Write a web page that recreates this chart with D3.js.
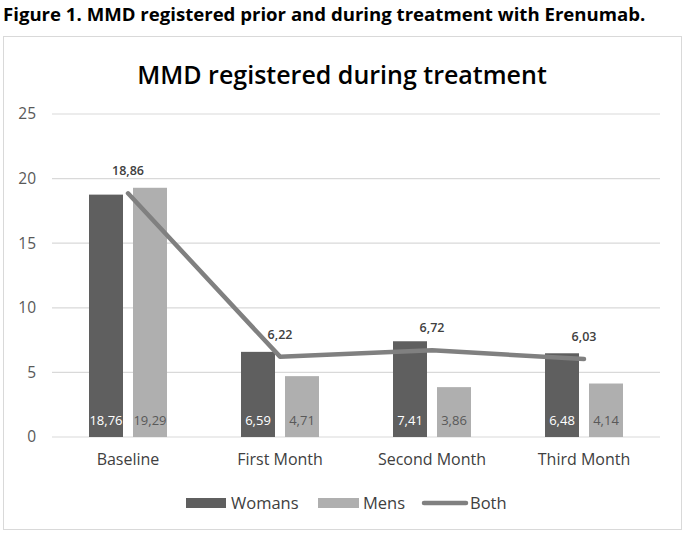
<!DOCTYPE html>
<meta charset="utf-8">
<style>
  body { margin: 0; background: #fff; }
  text { font-family: "Open Sans", "Noto Sans", sans-serif; }
</style>
<body>
<script src="https://d3js.org/d3.v7.min.js"></script>
<script>

// data
var categories = ["Baseline", "First Month", "Second Month", "Third Month"];
var womans = [18.76, 6.59, 7.41, 6.48];
var mens = [19.29, 4.71, 3.86, 4.14];
var both = [18.86, 6.22, 6.72, 6.03];
var yTicks = [0, 5, 10, 15, 20, 25];

var fmt = function(v) { return v.toFixed(2).replace(".", ","); };

var width = 685, height = 535;
var plot = {left: 52, right: 660, top: 114, bottom: 437};

var svg = d3.select("body").append("svg")
    .attr("width", width)
    .attr("height", height);

// caption above the chart box
svg.append("text")
    .attr("x", 3).attr("y", 21)
    .attr("font-size", 18.6).attr("font-weight", 700)
    .attr("fill", "#000")
    .text("Figure 1. MMD registered prior and during treatment with Erenumab.");

// chart box
svg.append("rect")
    .attr("x", 3.5).attr("y", 36.5)
    .attr("width", 678).attr("height", 493)
    .attr("fill", "#fff").attr("stroke", "#d9d9d9");

svg.append("text")
    .attr("x", 342).attr("y", 84)
    .attr("text-anchor", "middle")
    .attr("font-size", 25).attr("font-weight", 600)
    .attr("fill", "#000")
    .text("MMD registered during treatment");

// scales
var x0 = d3.scaleBand().domain(categories).range([plot.left, plot.right]);
var x1 = d3.scaleBand().domain(["Womans", "Mens"])
    .range([37, x0.bandwidth() - 37]).paddingInner(0.2273);
var y = d3.scaleLinear().domain([0, 25]).range([plot.bottom, plot.top]);

// grid
svg.append("g").selectAll("line")
    .data(yTicks).enter().append("line")
    .attr("x1", plot.left).attr("x2", plot.right)
    .attr("y1", function(d) { return y(d); })
    .attr("y2", function(d) { return y(d); })
    .attr("stroke", "#d9d9d9").attr("stroke-width", 1.2);

// y axis labels
var yAxis = svg.append("g")
    .attr("transform", "translate(" + (plot.left - 16) + ",0)")
    .call(d3.axisLeft(y).tickValues(yTicks).tickSize(0).tickPadding(0));
yAxis.select(".domain").remove();
yAxis.selectAll("text")
    .attr("font-size", 15.5).attr("fill", "#595959")
    .attr("font-family", "Open Sans, sans-serif");

// x axis labels
var xAxis = svg.append("g")
    .attr("transform", "translate(0," + plot.bottom + ")")
    .call(d3.axisBottom(x0).tickSize(0).tickPadding(17));
xAxis.select(".domain").remove();
xAxis.selectAll("text")
    .attr("font-size", 16).attr("fill", "#404040")
    .attr("font-family", "Open Sans, sans-serif");

// bars
var series = [
  {name: "Womans", values: womans, color: "#5f5f5f", label: "#ffffff"},
  {name: "Mens", values: mens, color: "#afafaf", label: "#595959"}
];

series.forEach(function(s) {
  var g = svg.append("g");
  g.selectAll("rect")
      .data(s.values).enter().append("rect")
      .attr("x", function(d, i) { return x0(categories[i]) + x1(s.name); })
      .attr("y", function(d) { return y(d); })
      .attr("width", x1.bandwidth())
      .attr("height", function(d) { return y(0) - y(d); })
      .attr("fill", s.color);
  g.selectAll("text")
      .data(s.values).enter().append("text")
      .attr("x", function(d, i) { return x0(categories[i]) + x1(s.name) + x1.bandwidth() / 2; })
      .attr("y", y(0) - 12)
      .attr("text-anchor", "middle")
      .attr("font-size", 13)
      .attr("fill", s.label)
      .text(fmt);
});

// line for both
var cx = function(d, i) { return x0(categories[i]) + x0.bandwidth() / 2; };
var line = d3.line().x(cx).y(function(d) { return y(d); });

svg.append("path")
    .datum(both)
    .attr("d", line)
    .attr("fill", "none")
    .attr("stroke", "#808080")
    .attr("stroke-width", 4.5)
    .attr("stroke-linecap", "round")
    .attr("stroke-linejoin", "round");

svg.append("g").selectAll("text")
    .data(both).enter().append("text")
    .attr("x", cx)
    .attr("y", function(d) { return y(d) - 18; })
    .attr("text-anchor", "middle")
    .attr("font-size", 12.5)
    .attr("font-weight", 600)
    .attr("fill", "#404040")
    .text(fmt);

// legend
var legend = svg.append("g").attr("font-size", 16.5);
legend.append("rect").attr("x", 186).attr("y", 498).attr("width", 40).attr("height", 10).attr("fill", "#5f5f5f");
legend.append("text").attr("x", 231).attr("y", 509).attr("fill", "#404040").text("Womans");
legend.append("rect").attr("x", 318).attr("y", 498).attr("width", 41).attr("height", 10).attr("fill", "#afafaf");
legend.append("text").attr("x", 363).attr("y", 509).attr("fill", "#404040").text("Mens");
legend.append("line").attr("x1", 424).attr("x2", 466).attr("y1", 503).attr("y2", 503)
    .attr("stroke", "#808080").attr("stroke-width", 4.5).attr("stroke-linecap", "round");
legend.append("text").attr("x", 470).attr("y", 509).attr("fill", "#404040").text("Both");

</script>
</body>
